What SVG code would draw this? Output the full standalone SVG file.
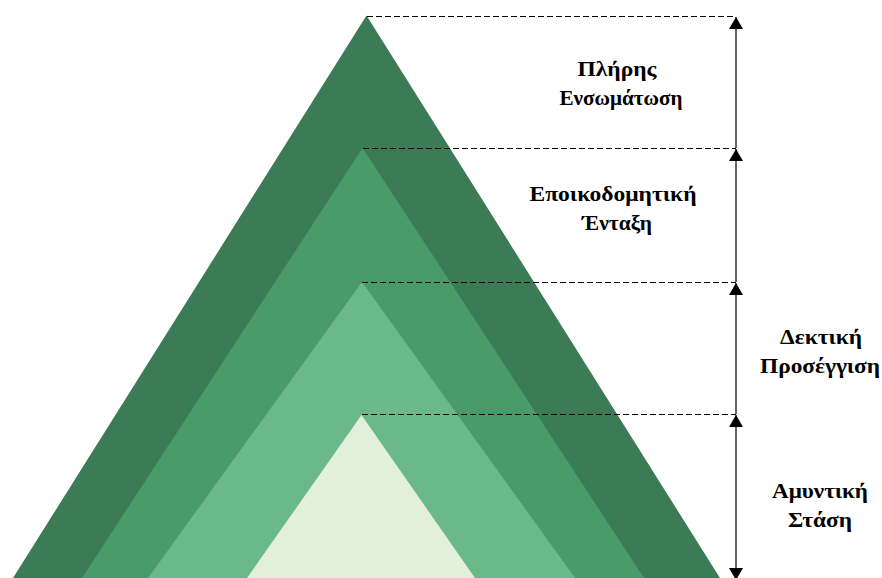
<svg xmlns="http://www.w3.org/2000/svg" width="882" height="578" viewBox="0 0 882 578">
  <defs>
    <style>
      .lbl { font-family: "Liberation Serif", "Times New Roman", serif; font-weight: bold; font-size: 20px; fill: #000; text-anchor: middle; }
      .dash { stroke: #000; stroke-width: 1; stroke-dasharray: 6 3; fill: none; }
      .axis { stroke: #000; stroke-width: 1.2; fill: none; }
    </style>
    <marker id="arrowBig" viewBox="0 0 12 14" refX="12" refY="7" markerWidth="12" markerHeight="14" markerUnits="userSpaceOnUse" orient="auto">
      <path d="M0,0 L12,7 L0,14 Z" fill="#000"/>
    </marker>
  </defs>
  <rect width="882" height="578" fill="#fff"/>

  <!-- nested layers, outermost first -->
  <g id="layer-full">
    <polygon points="366.5,15.5 13,578 720,578" fill="#3B7B55"/>
  </g>
  <g id="layer-constructive">
    <polygon points="362.5,148 82,578 644,578" fill="#4A9B6A"/>
  </g>
  <g id="layer-receptive">
    <polygon points="362,282 148,578 575,578" fill="#6BB98B"/>
  </g>
  <g id="layer-defensive">
    <polygon points="361.5,415 247,578 475,578" fill="#E2EFDA"/>
  </g>

  <g id="connectors">
    <line class="dash" x1="367" y1="16.5" x2="736" y2="16.5"/>
    <line class="dash" x1="363" y1="148.5" x2="736" y2="148.5"/>
    <line class="dash" x1="362" y1="282.5" x2="736" y2="282.5"/>
    <line class="dash" x1="362" y1="414.5" x2="736" y2="414.5"/>
    <line class="axis" x1="736" y1="148" x2="736" y2="17" marker-end="url(#arrowBig)"/>
    <line class="axis" x1="736" y1="282" x2="736" y2="149" marker-end="url(#arrowBig)"/>
    <line class="axis" x1="736" y1="414" x2="736" y2="283" marker-end="url(#arrowBig)"/>
    <line class="axis" x1="736" y1="470" x2="736" y2="415" marker-end="url(#arrowBig)"/>
    <line class="axis" x1="736" y1="470" x2="736" y2="580" marker-end="url(#arrowBig)"/>
  </g>

  <g id="label-full">
    <text class="lbl" x="617" y="76" textLength="79" lengthAdjust="spacingAndGlyphs">Πλήρης</text>
    <text class="lbl" x="621" y="105" textLength="123" lengthAdjust="spacingAndGlyphs">Ενσωμάτωση</text>
  </g>
  <g id="label-constructive">
    <text class="lbl" x="613" y="201" textLength="167" lengthAdjust="spacingAndGlyphs">Εποικοδομητική</text>
    <text class="lbl" x="617" y="230" textLength="70" lengthAdjust="spacingAndGlyphs">Ένταξη</text>
  </g>
  <g id="label-receptive">
    <text class="lbl" x="821" y="344" textLength="82" lengthAdjust="spacingAndGlyphs">Δεκτική</text>
    <text class="lbl" x="820" y="373" textLength="120" lengthAdjust="spacingAndGlyphs">Προσέγγιση</text>
  </g>
  <g id="label-defensive">
    <text class="lbl" x="820" y="498" textLength="96" lengthAdjust="spacingAndGlyphs">Αμυντική</text>
    <text class="lbl" x="820" y="527" textLength="64" lengthAdjust="spacingAndGlyphs">Στάση</text>
  </g>
</svg>
